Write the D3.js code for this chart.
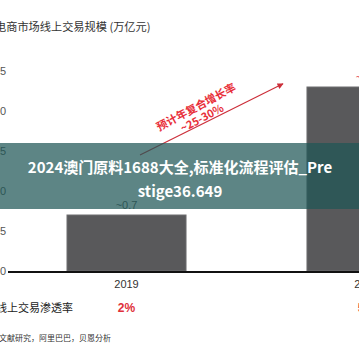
<!DOCTYPE html>
<html><head><meta charset="utf-8">
<script src="https://cdn.jsdelivr.net/npm/d3@7/dist/d3.min.js"></script>
<style>
html,body{margin:0;padding:0;background:#fff;overflow:hidden;}
svg{display:block;font-family:"Noto Sans CJK SC","Noto Sans",sans-serif;}
</style></head>
<body>
<script>
const categories = ["2019", "2025"];
const values = [0.7, 2.3];
const valueLabels = ["~0.7", "~2.3"];
const penetration = ["2%", "5%"];
const yTicks = [0, 0.5, 1.0, 1.5, 2.0, 2.5];
const title = "电商市场线上交易规模 (万亿元)";
const rowLabel = "线上交易渗透率";
const source = "文献研究，阿里巴巴，贝恩分析";
const cagrLines = ["预计年复合增长率", "~25-30%"];
const bannerLines = ["2024澳门原料1688大全,标准化流程评估_Pre", "stige36.649"];

const W = 359, H = 359;
const svg = d3.select("body").append("svg").attr("width", W).attr("height", H);

const x = d3.scaleBand().domain(categories).range([7, 486]).paddingInner(0.504).paddingOuter(0.25);
const y = d3.scaleLinear().domain([0, 2.5]).range([271, 71]);
const cx = c => x(c) + x.bandwidth() / 2;

// title
svg.append("text").attr("x", -5).attr("y", 31).attr("font-size", 11.2).attr("fill", "#333").text(title);

// y tick labels
const yAxis = d3.axisLeft(y).tickValues(yTicks).tickFormat(d => d === 0 ? "0" : d3.format(".1f")(d)).tickSize(0).tickPadding(0);
const ga = svg.append("g").attr("transform", "translate(6,0)").call(yAxis);
ga.select(".domain").remove();
ga.selectAll("text").attr("font-size", 11).attr("fill", "#555").attr("font-family", "Liberation Sans, Arial, sans-serif");

// bars
svg.selectAll("rect.bar").data(categories).enter().append("rect").attr("class", "bar")
  .attr("x", d => x(d)).attr("width", x.bandwidth())
  .attr("y", (d, i) => y(values[i])).attr("height", (d, i) => y(0) - y(values[i]))
  .attr("fill", "#59595b").attr("stroke", "#6e6e70").attr("stroke-width", 1);

// baseline
svg.append("line").attr("x1", 8).attr("x2", W).attr("y1", y(0) + 1).attr("y2", y(0) + 1)
  .attr("stroke", "#111").attr("stroke-width", 2);

// x labels
svg.selectAll("text.xl").data(categories).enter().append("text").attr("class", "xl")
  .attr("x", d => cx(d)).attr("y", 288).attr("text-anchor", "middle")
  .attr("font-size", 11).attr("fill", "#333").attr("font-family", "Liberation Sans, Arial, sans-serif").text(d => d);

// value labels
svg.selectAll("text.vl").data(categories).enter().append("text").attr("class", "vl")
  .attr("x", d => cx(d)).attr("y", (d, i) => y(values[i]) - 6).attr("text-anchor", "middle")
  .attr("font-size", 11).attr("font-family", "Liberation Sans, Arial, sans-serif")
  .attr("fill", (d, i) => i === 0 ? "#555" : "#e0303a").text((d, i) => valueLabels[i]);

// penetration row
svg.append("text").attr("x", 73).attr("y", 312).attr("text-anchor", "end").attr("font-size", 11).attr("fill", "#222").text(rowLabel);
svg.selectAll("text.pen").data(categories).enter().append("text").attr("class", "pen")
  .attr("x", d => cx(d)).attr("y", 312).attr("text-anchor", "middle")
  .attr("font-size", 12).attr("font-weight", "bold").attr("fill", "#e0303a")
  .attr("font-family", "Liberation Sans, Arial, sans-serif").text((d, i) => penetration[i]);

// source
svg.append("text").attr("x", -1).attr("y", 341).attr("font-size", 8).attr("fill", "#333").text(source);

// CAGR arrow
const defs = svg.append("defs");
defs.append("marker").attr("id", "ah").attr("viewBox", "0 0 10 10").attr("refX", 9).attr("refY", 5)
  .attr("markerWidth", 7).attr("markerHeight", 6).attr("orient", "auto").attr("markerUnits", "userSpaceOnUse")
  .append("path").attr("d", "M0,0 L10,5 L0,10 z").attr("fill", "#cc2f3a");
const x0 = cx(categories[0]) + 13.5, y0 = y(1.45);
const x1 = cx(categories[1]) - 83.5, y1 = y(2.34);
svg.append("line").attr("x1", x0).attr("y1", y0).attr("x2", x1).attr("y2", y1)
  .attr("stroke", "#cc2f3a").attr("stroke-width", 1.2).attr("marker-end", "url(#ah)");
const ang = Math.atan2(y1 - y0, x1 - x0) * 180 / Math.PI;
const tg = svg.append("g").attr("transform", `translate(196,107) rotate(${ang - 1.5})`);
tg.selectAll("text").data(cagrLines).enter().append("text")
  .attr("x", 0).attr("y", (d, i) => i * 12.5 + 4).attr("text-anchor", "middle")
  .attr("font-size", 11).attr("font-weight", "bold").attr("fill", "#e8303a").text(d => d);

// banner overlay
svg.append("rect").attr("x", 0).attr("y", 143).attr("width", W).attr("height", 66)
  .attr("fill", "rgb(31,86,86)").attr("fill-opacity", 0.72);
svg.selectAll("text.bn").data(bannerLines).enter().append("text").attr("class", "bn")
  .attr("x", 180).attr("y", (d, i) => 173 + i * 24).attr("text-anchor", "middle")
  .attr("font-size", 15).attr("font-weight", "bold").attr("fill", "#fff").text(d => d);
</script>
</body></html>
